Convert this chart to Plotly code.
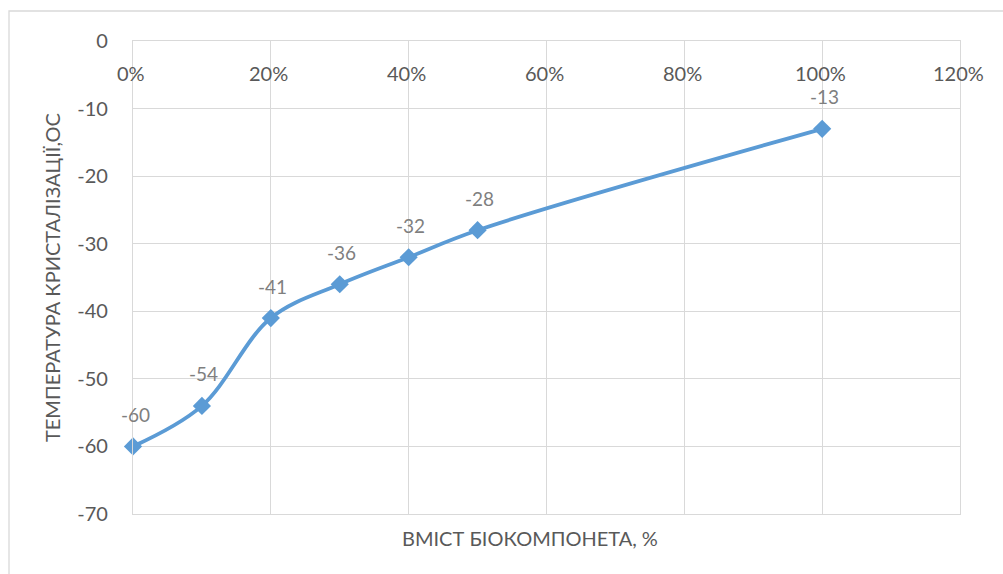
import plotly.graph_objects as go

x_vals = [0, 0.1, 0.2, 0.3, 0.4, 0.5, 1.0]
y_vals = [-60, -54, -41, -36, -32, -28, -13]
x_ticks = [0, 0.2, 0.4, 0.6, 0.8, 1.0, 1.2]
x_tick_labels = ["0%", "20%", "40%", "60%", "80%", "100%", "120%"]
y_ticks = [0, -10, -20, -30, -40, -50, -60, -70]
y_tick_labels = ["0", "-10", "-20", "-30", "-40", "-50", "-60", "-70"]
x_title = "ВМІСТ БІОКОМПОНЕТА, %"
y_title = "ТЕМПЕРАТУРА КРИСТАЛІЗАЦІЇ,ОС"

W, H = 1003, 574
L, R, T, B = 133, W - 960, 41, H - 514
pw, ph = W - L - R, H - T - B

def px(xp):
    return (xp - L) / pw

def py(yp):
    return (H - B - yp) / ph

FONT = "Lato"
TXT = "#595959"
GRID = "#d9d9d9"

fig = go.Figure()
fig.add_trace(go.Scatter(
    x=x_vals, y=y_vals, mode="lines+markers",
    line=dict(color="#5b9bd5", width=3.8, shape="spline", smoothing=1.0),
    marker=dict(symbol="diamond", size=14, color="#5b9bd5"),
    hoverinfo="skip", showlegend=False, cliponaxis=False,
))

annotations = []
for xv, yv in zip(x_vals, y_vals):
    annotations.append(dict(x=xv, y=yv, xref="x", yref="y", text=str(yv),
                            showarrow=False, yshift=32, xshift=2,
                            font=dict(family=FONT, size=19, color="#7f7f7f")))
for xv, lab in zip(x_ticks, x_tick_labels):
    annotations.append(dict(x=xv, y=py(73), xref="x", yref="paper", text=lab,
                            showarrow=False, xanchor="center", yanchor="middle", xshift=-2,
                            font=dict(family=FONT, size=20, color=TXT)))
annotations.append(dict(x=px(530), y=py(538), xref="paper", yref="paper", text=x_title,
                        showarrow=False, xanchor="center", yanchor="middle",
                        font=dict(family=FONT, size=20, color=TXT)))
annotations.append(dict(x=px(52), y=py(278), xref="paper", yref="paper", text=y_title,
                        showarrow=False, textangle=-90, xanchor="center", yanchor="middle",
                        font=dict(family=FONT, size=20, color=TXT)))

shapes = [dict(type="path", xref="paper", yref="paper",
               path=f"M {px(9)} {py(600)} L {px(9)} {py(11)} L {px(1030)} {py(11)}",
               line=dict(color="#d9d9d9", width=1.3))]

fig.update_layout(
    width=W, height=H,
    margin=dict(l=L, r=R, t=T, b=B),
    paper_bgcolor="white", plot_bgcolor="white",
    annotations=annotations, shapes=shapes,
    xaxis=dict(range=[0, 1.2], tickvals=x_ticks, showticklabels=False,
               showgrid=True, gridcolor=GRID, gridwidth=1.3,
               showline=True, linecolor=GRID, linewidth=1.3, mirror=True,
               zeroline=False, ticks=""),
    yaxis=dict(range=[-70, 0], tickvals=y_ticks, ticktext=y_tick_labels,
               showgrid=True, gridcolor=GRID, gridwidth=1.3,
               showline=True, linecolor=GRID, linewidth=1.3, mirror=True,
               zeroline=False, ticks="", ticklabelstandoff=20,
               tickfont=dict(family=FONT, size=20, color=TXT)),
)

fig.write_html("out.html")
